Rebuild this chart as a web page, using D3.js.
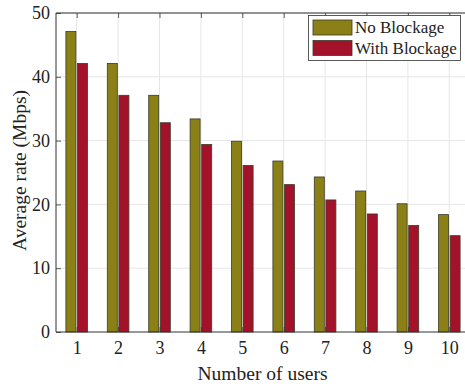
<!DOCTYPE html>
<html>
<head>
<meta charset="utf-8">
<script src="https://cdn.jsdelivr.net/npm/d3@7"></script>
<style>
  html, body { margin: 0; padding: 0; background: #fff; }
  svg { display: block; font-family: "Liberation Serif", "Times New Roman", serif; }
</style>
</head>
<body>
<svg id="chart" width="465" height="390"></svg>
<script>
// Average rate per number of users, with and without blockage
const users = [1, 2, 3, 4, 5, 6, 7, 8, 9, 10];
const noBlockage = [47.1, 42.1, 37.1, 33.4, 29.9, 26.8, 24.3, 22.1, 20.1, 18.4];
const withBlockage = [42.1, 37.1, 32.8, 29.4, 26.1, 23.1, 20.7, 18.5, 16.7, 15.1];
const seriesNames = ["No Blockage", "With Blockage"];
const seriesColors = ["#8a8016", "#a31228"];
const yTicks = [0, 10, 20, 30, 40, 50];

const svg = d3.select("#chart");
const margin = { left: 56, top: 13, bottom: 332 };
const plotRight = 470; // axes box runs past the window edge

const x = d3.scaleLinear().domain([0.5, 10.5]).range([margin.left, plotRight]);
const y = d3.scaleLinear().domain([0, 50]).range([margin.bottom, margin.top]);

// grid
const grid = svg.append("g");
grid.selectAll("line.gx").data(users).join("line")
  .attr("x1", d => x(d)).attr("x2", d => x(d))
  .attr("y1", margin.top).attr("y2", margin.bottom)
  .attr("stroke", "#e6e6e6").attr("stroke-width", 1);
grid.selectAll("line.gy").data(yTicks.slice(1)).join("line")
  .attr("x1", margin.left).attr("x2", plotRight)
  .attr("y1", d => y(d)).attr("y2", d => y(d))
  .attr("stroke", "#e6e6e6").attr("stroke-width", 1);

// bars
const barW = 10;
const offset = 5.8;
const series = [noBlockage, withBlockage];
series.forEach((vals, si) => {
  svg.append("g").selectAll("rect").data(vals).join("rect")
    .attr("x", (d, i) => x(users[i]) + (si === 0 ? -offset : offset) - barW / 2)
    .attr("y", d => y(d))
    .attr("width", barW)
    .attr("height", d => y(0) - y(d))
    .attr("fill", seriesColors[si])
    .attr("stroke", "#3a3a2a")
    .attr("stroke-width", 0.8);
});

// axes (ticks pointing inward)
const axisColor = "#333";
const yAxis = svg.append("g")
  .attr("transform", `translate(${margin.left},0)`)
  .call(d3.axisLeft(y).tickValues(yTicks).tickSize(-5).tickPadding(6));
const xAxis = svg.append("g")
  .attr("transform", `translate(0,${margin.bottom})`)
  .call(d3.axisBottom(x).tickValues(users).tickSize(-5).tickPadding(9));
const topAxis = svg.append("g")
  .attr("transform", `translate(0,${margin.top})`)
  .call(d3.axisTop(x).tickValues(users).tickSize(-5).tickFormat(""));
[yAxis, xAxis, topAxis].forEach(g => {
  g.select(".domain").attr("stroke", axisColor).attr("stroke-width", 1);
  g.selectAll(".tick line").attr("stroke", axisColor).attr("stroke-width", 0.8);
  g.selectAll("text").attr("fill", "#222")
    .style("font-family", "'Liberation Serif', serif").style("font-size", "18px");
});
yAxis.select(".domain").attr("d", `M0,${margin.bottom}V${margin.top}`);
xAxis.select(".domain").attr("d", `M${margin.left},0H${plotRight}`);
topAxis.select(".domain").attr("d", `M${margin.left},0H${plotRight}`);

// axis titles
svg.append("text")
  .attr("x", 262.5).attr("y", 380)
  .attr("text-anchor", "middle")
  .attr("fill", "#222").style("font-size", "19.5px")
  .text("Number of users");
svg.append("text")
  .attr("transform", "translate(26,170.5) rotate(-90)")
  .attr("text-anchor", "middle")
  .attr("fill", "#222").style("font-size", "19.5px")
  .text("Average rate (Mbps)");

// legend
const legend = svg.append("g");
legend.append("rect")
  .attr("x", 308.5).attr("y", 15.5).attr("width", 152).attr("height", 45)
  .attr("fill", "#fff").attr("stroke", "#333").attr("stroke-width", 0.8);
seriesNames.forEach((name, i) => {
  legend.append("rect")
    .attr("x", 313).attr("y", 20 + i * 20.5).attr("width", 39).attr("height", 15)
    .attr("fill", seriesColors[i]).attr("stroke", "#3a3a2a").attr("stroke-width", 0.8);
  legend.append("text")
    .attr("x", 355).attr("y", 33 + i * 20.5)
    .attr("fill", "#222").style("font-size", "17px")
    .text(name);
});
</script>
</body>
</html>
